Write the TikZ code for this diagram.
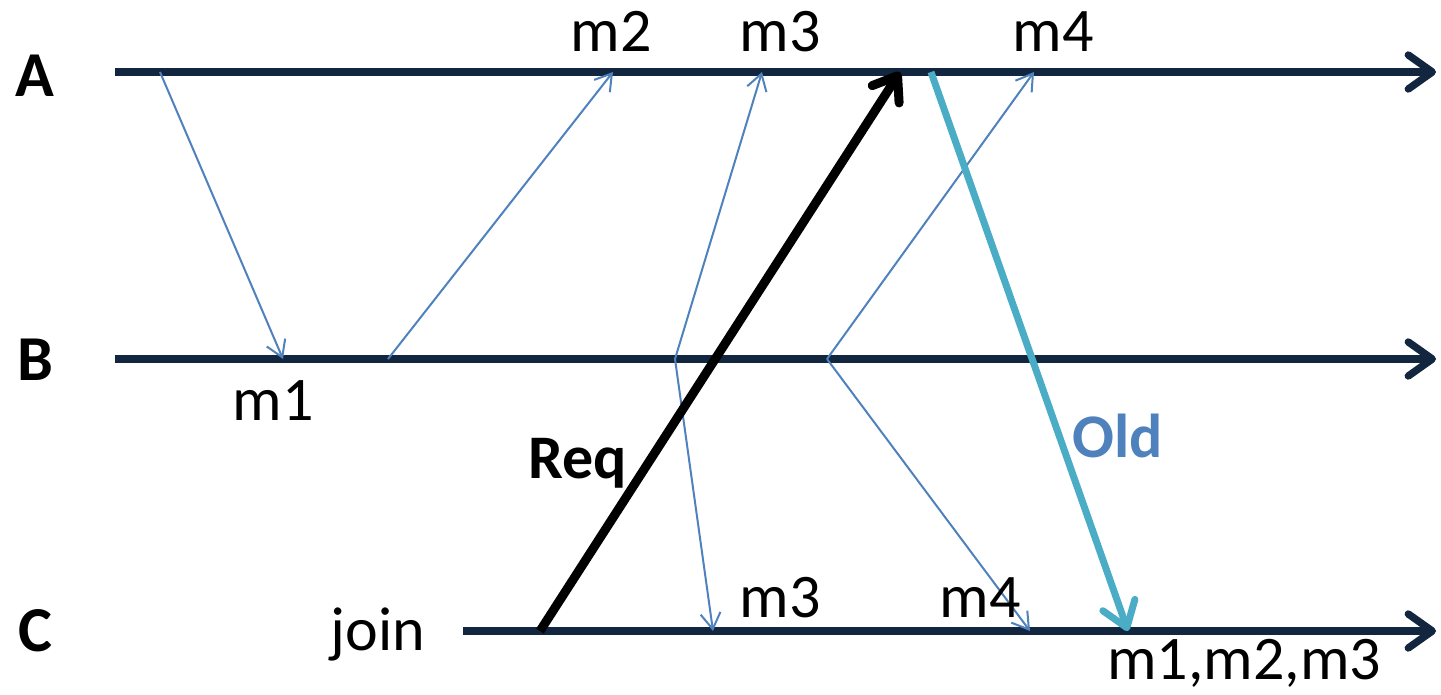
\documentclass[tikz,border=0pt]{standalone}
\usepackage{fontspec}
\setmainfont{Carlito}
\usetikzlibrary{arrows.meta}
\definecolor{linenavy}{HTML}{12263F}
\definecolor{msgblue}{HTML}{4F81BD}
\definecolor{oldcyan}{HTML}{4BACC6}

\begin{document}
\begin{tikzpicture}[
    x=0.5pt, y=-0.5pt,
    every node/.style={font=\fontsize{31}{34}\selectfont, inner sep=0pt, anchor=base},
    proc/.style={font=\fontsize{32}{34}\selectfont\bfseries},
    timeline/.style={line width=3.7pt, linenavy, -{Straight Barb[length=12pt,width=17pt,round]}},
    msg/.style={line width=1pt, msgblue, -{Straight Barb[length=8pt,width=10pt]}},
    req/.style={line width=4.5pt, black, -{Straight Barb[length=11pt,width=16pt,round]}},
    old/.style={line width=3.5pt, oldcyan, -{Straight Barb[length=12pt,width=17pt,round]}}
]
\useasboundingbox (0,0) rectangle (1441,695);

% processes
\node (A) [proc] at (35,97) {A};
\node (B) [proc] at (35,380) {B};
\node (C) [proc] at (35,651) {C};
\node (join) at (378,650) {join};

\coordinate (Astart) at (115,72);
\coordinate (Aend) at (1436,72);
\coordinate (Bstart) at (115,359);
\coordinate (Bend) at (1436,359);
\coordinate (Cstart) at (463,631);
\coordinate (Cend) at (1436,631);
\draw[timeline] (Astart) -- (Aend);
\draw[timeline] (Bstart) -- (Bend);
\draw[timeline] (Cstart) -- (Cend);

% message events
\coordinate (m1send) at (160,72);
\coordinate (m1recv) at (283,359);
\coordinate (m2send) at (388,359);
\coordinate (m2recv) at (613,72);
\coordinate (m3send) at (675,359);
\coordinate (m3recvA) at (762,72);
\coordinate (m3recvC) at (713,631);
\coordinate (m4send) at (827,359);
\coordinate (m4recvA) at (1034,72);
\coordinate (m4recvC) at (1030,631);
\draw[msg] (m1send) -- (m1recv);
\draw[msg] (m2send) -- (m2recv);
\draw[msg] (m3send) -- (m3recvA);
\draw[msg] (m3send) -- (m3recvC);
\draw[msg] (m4send) -- (m4recvA);
\draw[msg] (m4send) -- (m4recvC);

% join request and state transfer
\coordinate (reqsend) at (540,631);
\coordinate (reqrecv) at (900,72);
\coordinate (oldsend) at (931,72);
\coordinate (oldrecv) at (1128,631);
\draw[req] (reqsend) -- (reqrecv);
\draw[old] (oldsend) -- (oldrecv);

% labels
\node (lm1) at (273,420) {m1};
\node (lm2) at (611,52) {m2};
\node (lm3A) at (780,52) {m3};
\node (lm4A) at (1053,52) {m4};
\node (lm3C) at (780,617) {m3};
\node (lm4C) at (980,617) {m4};
\node (lstate) at (1244,679) {m1,m2,m3};
\node (lreq) [font=\fontsize{31}{34}\selectfont\bfseries] at (578,478) {Req};
\node (lold) [font=\fontsize{31}{34}\selectfont\bfseries, text=msgblue] at (1118,457) {Old};
\end{tikzpicture}
\end{document}
